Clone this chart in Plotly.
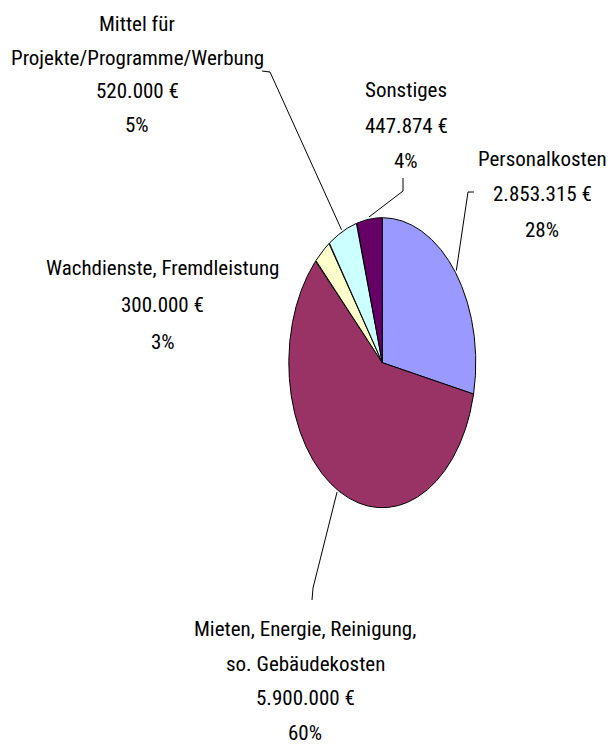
import math
import plotly.graph_objects as go

# ---------------- data ----------------
categories = [
    "Personalkosten",
    "Mieten, Energie, Reinigung, so. Gebäudekosten",
    "Wachdienste, Fremdleistung",
    "Mittel für Projekte/Programme/Werbung",
    "Sonstiges",
]
label_lines = [
    ["Personalkosten"],
    ["Mieten, Energie, Reinigung,", "so. Gebäudekosten"],
    ["Wachdienste, Fremdleistung"],
    ["Mittel für", "Projekte/Programme/Werbung"],
    ["Sonstiges"],
]
values = [2853315, 5900000, 300000, 520000, 447874]
percent_labels = ["28%", "60%", "3%", "5%", "4%"]

# ---------------- style / layout ----------------
colors = ["#9999FF", "#993366", "#FFFFCC", "#CCFFFF", "#660066"]
W, H = 611, 747
CX, CY = 382.3, 362.7      # pie centre (px)
RX, RY = 93.5, 145.0       # pie radii (px)
FONT = "Liberation Sans Narrow, Arial Narrow, Roboto Condensed, Roboto, sans-serif"
FSIZE = 21

# label block: (centre x, first line y, line spacing)
label_pos = [
    (542, 159, 35.3),
    (305, 629, 34.5),
    (162.5, 267.5, 37.0),
    (137, 24, 33.5),
    (406, 90, 35.5),
]
# leader line points near the label (pie end is computed from the slice)
leader_pts = [
    [(474, 192), (468, 192)],
    [(312, 600), (313, 588)],
    None,
    [(262, 71), (270, 72)],
    [(403, 178), (403, 191)],
]


def fmt_eur(v):
    return f"{v:,}".replace(",", ".") + " €"


def ell(a, k=1.0):
    return CX + k * RX * math.sin(a), CY - k * RY * math.cos(a)


total = sum(values)
fig = go.Figure()
cum = 0.0
mids = []
for i, v in enumerate(values):
    a0 = 2 * math.pi * cum / total
    a1 = 2 * math.pi * (cum + v) / total
    cum += v
    n = max(4, int((a1 - a0) * 180))
    xs, ys = [CX], [CY]
    for j in range(n + 1):
        x, y = ell(a0 + (a1 - a0) * j / n)
        xs.append(x)
        ys.append(y)
    xs.append(CX)
    ys.append(CY)
    fig.add_trace(go.Scatter(
        x=xs, y=ys, mode="lines", fill="toself", fillcolor=colors[i],
        line=dict(color="black", width=1), name=categories[i],
        hoverinfo="name", showlegend=False,
    ))
    mids.append((a0 + a1) / 2)

# leader lines
for i, pts in enumerate(leader_pts):
    if not pts:
        continue
    ex, ey = ell(mids[i], 1.015)
    xs = [p[0] for p in pts] + [ex]
    ys = [p[1] for p in pts] + [ey]
    fig.add_trace(go.Scatter(x=xs, y=ys, mode="lines",
                             line=dict(color="black", width=1),
                             hoverinfo="skip", showlegend=False))

# labels
annotations = []
for i in range(len(values)):
    lines = label_lines[i] + [fmt_eur(values[i]), percent_labels[i]]
    lx, ly, sp = label_pos[i]
    for k, t in enumerate(lines):
        annotations.append(dict(
            x=lx, y=ly + k * sp, xref="x", yref="y", text=t,
            showarrow=False, xanchor="center", yanchor="middle",
            font=dict(family=FONT, size=FSIZE, color="black"),
        ))

fig.update_layout(
    width=W, height=H,
    margin=dict(l=0, r=0, t=0, b=0, pad=0),
    paper_bgcolor="white", plot_bgcolor="white",
    xaxis=dict(range=[0, W], visible=False, domain=[0, 1], fixedrange=True),
    yaxis=dict(range=[H, 0], visible=False, domain=[0, 1], fixedrange=True),
    annotations=annotations,
    showlegend=False,
)

fig.write_html("out.html", config={"displayModeBar": False},
               post_script="document.body.style.margin='0';")
